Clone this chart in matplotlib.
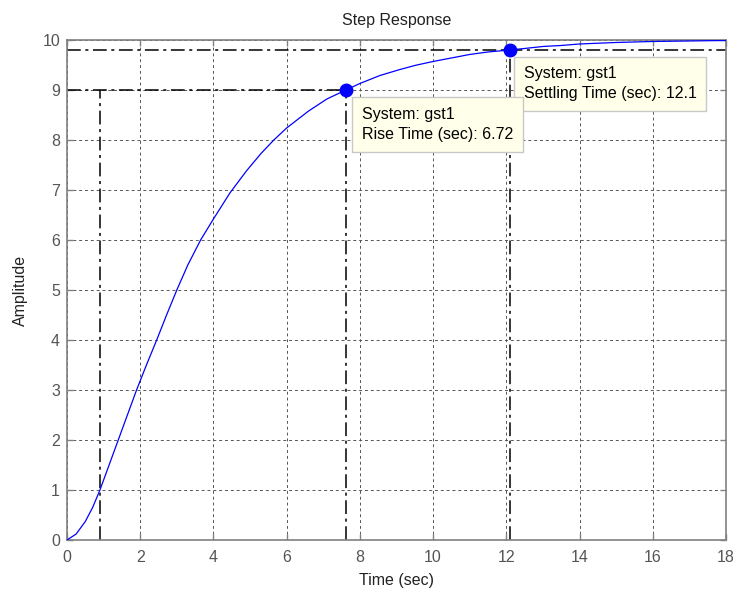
import matplotlib
matplotlib.use('Agg')
import matplotlib.pyplot as plt

# Step response
t = [0, 0.25, 0.5, 0.7, 0.9, 1.15, 1.4, 1.65, 1.9, 2.17, 2.45, 2.72, 3.0, 3.3,
     3.65, 4.0, 4.45, 4.9, 5.3, 5.65, 6.0, 6.6, 7.1, 7.62, 8.0, 8.55, 9.05, 9.5,
     10, 10.5, 11, 11.5, 12.1, 12.5, 13, 13.5, 14, 15, 16, 17, 18]
amp = [0, 0.12, 0.37, 0.65, 1.0, 1.5, 2.0, 2.5, 3.0, 3.5, 4.0, 4.5, 5.0, 5.5,
       6.0, 6.42, 6.94, 7.38, 7.73, 8.0, 8.24, 8.58, 8.82, 9.0, 9.13, 9.29, 9.4, 9.49,
       9.57, 9.64, 9.71, 9.76, 9.8, 9.83, 9.87, 9.89, 9.92, 9.95, 9.97, 9.98, 9.99]

rise_start = 0.9
rise_end = 7.62
rise_level = 9.0
settle_time = 12.1
settle_level = 9.8
rise_text = 'System: gst1\nRise Time (sec): 6.72'
settle_text = 'System: gst1\nSettling Time (sec): 12.1'

plt.rcParams['font.family'] = ['Liberation Sans', 'DejaVu Sans']
fs = 11.5

fig = plt.figure(figsize=(7.33, 5.94), dpi=100)
ax = fig.add_axes([0.0914, 0.0909, 0.899, 0.8418])

ax.plot(t, amp, color='#0000FF', lw=0.9, zorder=3)

# rise / settling guide lines
dd = (0, (9, 3, 2, 3))
ax.plot([0, rise_end], [rise_level, rise_level], color='black', lw=1.1, ls=dd, zorder=2)
ax.plot([rise_start, rise_start], [0, rise_level], color='black', lw=1.1, ls=dd, zorder=2)
ax.plot([rise_end, rise_end], [0, rise_level], color='black', lw=1.1, ls=dd, zorder=2)
ax.plot([0, 18], [settle_level, settle_level], color='black', lw=1.1, ls=dd, zorder=2)
ax.plot([settle_time, settle_time], [0, settle_level], color='black', lw=1.1, ls=dd, zorder=2)

# data tips
ax.plot([rise_end], [rise_level], 'o', color='#0000FF', ms=9, zorder=4)
ax.plot([settle_time], [settle_level], 'o', color='#0000FF', ms=9, zorder=4)

box = dict(boxstyle='square,pad=0.62', facecolor='#FFFFEA', edgecolor='#C8C8C8', lw=1)
ax.text(12.47, 9.47, settle_text, fontsize=fs, ha='left', va='top',
        linespacing=1.4, bbox=box, zorder=5)
ax.text(8.05, 8.66, rise_text, fontsize=fs, ha='left', va='top',
        linespacing=1.4, bbox=box, zorder=6)

ax.set_xlim(0, 18)
ax.set_ylim(0, 10)
ax.set_xticks(range(0, 19, 2))
ax.set_yticks(range(0, 11))
ax.grid(True, color='#555555', lw=0.7, ls=(0, (3, 3)))
ax.tick_params(direction='in', length=4, width=1, colors='#808080',
               labelcolor='#555555', labelsize=fs, top=True, right=True)
ax.tick_params(axis='x', pad=7)
ax.tick_params(axis='y', pad=5)
for s in ax.spines.values():
    s.set_color('#808080')
    s.set_linewidth(1.2)

ax.set_title('Step Response', fontsize=fs, color='#222222', pad=11)
ax.set_xlabel('Time (sec)', fontsize=fs, color='#222222', labelpad=6)
ax.set_ylabel('Amplitude', fontsize=fs, color='#222222', labelpad=10)

fig.savefig('out.png', dpi=100)
